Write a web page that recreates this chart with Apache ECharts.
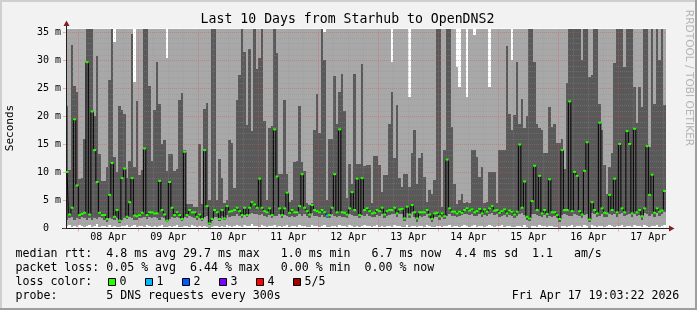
<!DOCTYPE html>
<html><head><meta charset="utf-8">
<script src="https://cdn.jsdelivr.net/npm/echarts@6/dist/echarts.min.js"></script>
<style>html,body{margin:0;padding:0;background:#f2f2f2}#c{width:697px;height:310px}</style>
</head><body><div id="c"></div><script>
// ---- data (hourly consolidated samples, first sample Apr 7 19:00) ----
const START_HOUR = 19;             // hours since Apr 7 00:00 of the first sample
const VIEW_START = 19.0561;        // Apr 7 19:03:22
const VIEW_END = 259.0561;         // Apr 17 19:03:22
const dayLabels = ['08 Apr','09 Apr','10 Apr','11 Apr','12 Apr','13 Apr','14 Apr','15 Apr','16 Apr','17 Apr'];
const yTickValues = [0,5,10,15,20,25,30,35];

const median = [
10.1,2.5,3.7,19.5,7.7,2.4,2.6,2.8,29.7,2.5,
20.9,14.0,8.3,2.8,2.4,2.4,1.7,6.0,11.7,2.1,
3.3,1.4,9.0,10.7,2.1,4.7,9.0,2.3,2.2,2.4,
2.8,14.3,2.4,2.9,2.9,2.7,2.7,8.5,3.3,2.5,
1.4,8.3,3.7,2.4,2.9,2.4,1.7,13.7,2.4,3.3,
2.9,2.9,2.1,2.5,1.7,14.0,4.0,0.9,1.7,3.3,
2.9,1.7,3.3,1.8,4.0,3.0,3.1,3.3,3.7,3.1,
2.4,3.7,2.4,3.7,4.7,4.3,3.7,8.9,3.7,3.1,
2.9,3.6,2.4,17.7,9.3,3.6,2.4,3.6,6.4,2.8,
3.3,2.9,2.9,4.0,9.7,3.7,3.1,2.5,4.2,3.3,
3.1,2.9,3.3,2.9,2.3,2.4,3.7,9.7,2.9,17.7,
2.9,2.8,2.5,3.6,6.5,3.3,8.9,2.4,9.0,3.3,
3.6,3.1,2.7,2.8,3.3,3.1,3.7,2.5,3.1,3.3,
3.3,3.7,2.7,3.4,3.5,1.8,3.9,2.5,4.2,2.9,
1.8,2.9,2.9,2.9,3.3,2.5,1.7,2.7,2.8,2.2,
2.7,2.2,12.3,3.6,3.0,3.0,2.7,3.0,2.8,3.3,
3.6,3.2,3.4,2.9,3.1,3.5,2.7,3.4,3.0,3.6,
4.0,3.2,3.3,2.8,3.1,3.4,2.7,3.2,3.0,2.5,
3.0,15.0,3.7,8.4,2.1,1.8,4.9,11.2,3.3,9.4,
2.7,3.3,2.6,8.8,2.9,2.9,2.4,1.7,14.0,3.3,
3.3,22.7,3.1,10.1,9.4,3.1,2.5,10.3,15.4,1.6,
4.7,3.3,2.7,18.9,3.6,2.8,2.7,6.0,3.3,8.9,
2.9,15.1,3.6,2.9,17.4,15.1,2.7,17.8,2.9,3.3,
2.2,3.6,14.7,6.0,9.6,2.8,3.6,3.0,3.2,6.7];

// lowest ping (bottom of the smoke)
const smokeMin = [
0.4,0.6,0.3,0.5,0.2,0.7,0.4,0.3,0.5,0.6,
0.3,0.4,0.8,0.3,0.5,0.4,0.3,0.6,0.2,0.5,
0.3,0.2,0.5,0.4,0.6,0.3,0.4,0.7,0.3,0.5,
0.4,0.3,0.6,0.4,0.2,0.5,0.3,0.4,0.6,0.3,
0.2,0.5,0.3,0.4,0.7,0.3,0.2,0.5,0.4,0.3,
0.6,0.4,0.3,0.5,0.2,0.4,0.3,0.1,0.2,0.4,
0.5,0.3,0.4,0.2,0.6,0.4,0.3,0.5,0.7,0.4,
0.3,0.6,0.4,0.5,0.8,0.4,0.5,0.3,0.6,0.4,
0.3,0.5,0.4,0.6,0.3,0.5,0.2,0.4,0.6,0.3,
0.5,0.4,0.3,0.7,0.4,0.5,0.3,0.2,0.6,0.4,
0.5,0.3,0.4,0.6,0.2,0.3,0.5,0.4,0.3,0.6,
0.4,0.5,0.3,0.7,0.4,0.3,0.5,0.2,0.4,0.6,
0.4,0.5,0.3,0.4,0.6,0.3,0.5,0.2,0.4,0.5,
0.3,0.6,0.4,0.5,0.3,0.2,0.7,0.3,0.5,0.4,
0.2,0.4,0.5,0.3,0.6,0.4,0.2,0.3,0.5,0.4,
0.3,0.4,0.5,0.6,0.3,0.4,0.5,0.3,0.4,0.6,
0.5,0.3,0.4,0.6,0.3,0.5,0.4,0.3,0.5,0.6,
0.4,0.3,0.5,0.4,0.6,0.3,0.4,0.5,0.3,0.2,
0.4,0.5,0.3,0.6,0.2,0.1,0.5,0.4,0.3,0.6,
0.4,0.5,0.3,0.4,0.5,0.3,0.2,0.1,0.4,0.5,
0.3,0.4,0.6,0.3,0.5,0.4,0.3,0.6,0.5,0.1,
0.7,0.4,0.3,0.5,0.4,0.3,0.5,0.6,0.4,0.3,
0.5,0.4,0.6,0.3,0.5,0.4,0.3,0.6,0.4,0.5,
0.2,0.6,0.4,0.3,0.5,0.4,0.6,0.3,0.5,0.7];

// bottom of the dense (dark) smoke band
const darkLo = [
1.6,1.9,2.0,1.5,1.8,1.7,2.0,1.9,1.6,1.8,
1.5,1.9,1.7,2.0,1.8,1.6,1.2,1.9,1.7,1.5,
1.8,1.0,1.6,1.9,1.7,2.1,1.8,1.6,1.5,1.9,
1.8,2.0,1.7,2.1,1.9,2.0,1.8,1.6,2.1,1.9,
1.1,1.7,2.0,1.8,2.1,1.9,1.3,2.0,1.8,2.2,
2.0,1.9,1.6,1.9,1.3,2.0,2.3,0.7,1.3,2.1,
2.0,1.3,2.2,1.5,2.4,2.1,2.2,2.3,2.5,2.2,
1.9,2.4,2.0,2.6,2.8,2.5,2.6,2.4,2.5,2.2,
2.1,2.4,1.9,2.3,2.2,2.5,1.9,2.4,2.2,2.0,
2.3,2.1,2.2,2.6,2.3,2.5,2.2,1.9,2.7,2.3,
2.2,2.0,2.4,2.1,1.8,1.9,2.6,2.3,2.0,2.2,
2.1,2.0,1.9,2.5,2.4,2.3,2.2,1.9,2.4,2.3,
2.5,2.3,2.0,2.1,2.4,2.2,2.6,1.9,2.3,2.4,
2.5,2.6,2.0,2.5,2.6,1.3,2.7,1.8,2.9,2.1,
1.2,2.2,2.1,2.3,2.5,1.9,1.2,2.0,2.1,1.6,
2.0,1.7,2.3,2.6,2.2,2.3,2.0,2.2,2.4,2.5,
2.6,2.4,2.5,2.2,2.3,2.6,2.0,2.4,2.2,2.5,
2.8,2.4,2.5,2.1,2.3,2.4,2.0,2.4,2.2,1.9,
2.2,2.5,2.7,2.4,1.5,1.3,2.6,2.5,2.4,2.3,
2.0,2.4,1.9,2.3,2.1,2.2,1.8,1.2,2.4,2.5,
2.4,2.3,2.3,2.5,2.4,2.3,1.9,2.4,2.6,1.1,
2.7,2.5,2.0,2.3,2.6,2.1,2.0,2.5,2.4,2.6,
2.1,2.5,2.7,2.2,2.4,2.5,2.0,2.6,2.2,2.4,
1.6,2.7,2.5,2.3,2.6,2.1,2.7,2.3,2.6,2.9];

// top of the dense (dark) smoke band (36 = above the visible range)
const darkHi = [
21.8,10.4,32.7,25.4,24.4,8.8,9.0,16.0,36,36,
36,20.0,30.8,13.3,8.5,8.5,10.9,26.5,36,12.7,
10.0,21.8,21.2,20.5,9.0,12.0,34.7,11.0,22.7,9.5,
10.5,36,36,25.4,12.0,21.1,29.8,22.2,15.0,15.8,
10.3,13.3,13.3,10.3,10.6,23.0,24.2,14.0,4.3,4.3,
4.3,3.9,3.9,15.0,4.3,21.3,22.4,5.0,36,36,
5.0,12.4,9.1,4.5,5.0,15.8,15.2,7.3,23.0,27.4,
36,31.5,18.4,32.0,17.4,36,28.5,30.5,36,19.2,
5.0,18.0,18.3,36,31.4,9.7,9.7,23.0,9.7,4.8,
5.0,11.8,12.0,21.9,11.8,10.3,4.5,4.2,4.5,17.5,
24.0,17.0,36,30.0,5.0,16.0,16.0,27.3,18.6,24.3,
27.6,21.0,5.5,11.5,8.0,27.6,11.5,11.5,29.3,11.2,
11.3,11.3,4.5,13.0,13.0,11.3,6.5,9.5,9.5,18.7,
24.4,12.5,22.0,9.0,7.4,9.8,9.8,7.4,13.4,17.6,
8.0,12.5,13.4,9.2,4.8,6.8,6.2,8.6,36,36,
3.9,14.0,36,36,18.1,8.0,4.3,5.0,6.2,4.5,
4.8,4.5,14.0,14.0,12.8,9.2,11.0,4.5,4.8,10.0,
10.0,10.0,4.5,14.0,14.0,14.0,32.5,20.5,17.5,20.2,
29.8,18.7,23.2,17.9,20.0,36,36,29.8,18.6,17.9,
17.5,13.4,13.4,21.7,18.1,18.6,15.2,15.2,16.0,10.7,
25.9,36,36,36,36,36,30.0,36,36,27.0,
27.4,36,36,22.3,17.5,11.3,6.2,11.0,13.4,29.5,
36,36,36,28.9,36,36,36,25.3,18.8,25.3,
21.7,36,36,14.5,36,22.3,36,30.0,36,22.0];

// highest ping (top of the smoke; 36 = above the visible range)
const smokeMax = [
36,36,36,36,36,36,36,36,36,36,
36,36,36,36,36,36,36,36,36,33.3,
36,36,36,36,36,36,36,26.2,36,36,
36,36,36,36,36,36,36,36,36,36,
30.5,36,36,36,36,36,36,36,36,36,
36,36,36,36,36,36,36,36,36,36,
36,36,36,36,36,36,36,36,36,36,
36,36,36,36,36,36,36,36,36,36,
36,36,36,36,36,36,36,36,36,36,
36,36,36,36,36,36,36,36,36,36,
36,36,36,35.0,36,36,36,36,36,36,
36,36,36,36,36,36,36,36,36,36,
36,36,36,36,36,36,36,36,36,36,
29.8,36,36,36,36,36,36,23.5,36,36,
36,36,36,36,36,36,36,36,36,36,
36,36,36,36,36,36,28.9,25.3,36,36,
23.4,36,36,34.5,36,36,36,36,36,25.3,
36,36,36,36,36,36,36,36,30.0,36,
36,36,36,36,36,36,36,36,36,36,
36,36,36,36,36,36,36,36,36,36,
36,36,36,36,36,36,36,36,36,36,
36,36,36,36,36,36,36,36,36,36,
36,36,36,36,36,36,36,36,36,36,
36,36,36,36,36,36,36,36,36,36];

const lossEvents = [[104, 1]];   // [sample index, lost pings]
const lossColors = ['#26ff00','#00b8ff','#0059ff','#7e00ff','#ff0000','#a10000'];
const lossLabels = ['0','1','2','3','4','5/5'];

const titleText = 'Last 10 Days from Starhub to OpenDNS2';
const legendRtt = 'median rtt:  4.8 ms avg 29.7 ms max   1.0 ms min   6.7 ms now  4.4 ms sd  1.1   am/s';
const legendLoss = 'packet loss: 0.05 % avg  6.44 % max   0.00 % min  0.00 % now';
const legendColor = 'loss color:';
const legendProbe = 'probe:       5 DNS requests every 300s';
const stampText = 'Fri Apr 17 19:03:22 2026';
const watermark = 'RRDTOOL / TOBI OETIKER';

// ---- styles ----
const Y_MAX = 35.714;
const LIGHT = '#a8a8a8', DARK = '#595959';
const MGRID = 'rgba(222,79,79,0.42)', GRID = 'rgba(143,143,143,0.35)';
const MONO = '"DejaVu Sans Mono", monospace';

const lossOf = {}; lossEvents.forEach(function(e){ lossOf[e[0]] = e[1]; });
const smokeData = median.map(function(m, i){
  return [START_HOUR + i, smokeMin[i], darkLo[i], darkHi[i], smokeMax[i]];
});
const medData = median.map(function(m, i){
  return { value: [START_HOUR + i + 0.5, m], itemStyle: { color: lossColors[lossOf[i] || 0] } };
});

// grid line positions (axis structure, not data)
const gridLines = [];
for (let v = 1; v <= 35; v++) {
  gridLines.push({ yAxis: v, lineStyle: { color: v % 5 === 0 ? MGRID : GRID, type: [1,1], width: 1 } });
}
const midnights = [], noons = [];
for (let k = 0; k < dayLabels.length; k++) { midnights.push(24 + 24 * k); noons.push(36 + 24 * k); }
for (let h = 24; h <= 258; h += 6) {
  gridLines.push({ xAxis: h, lineStyle: { color: h % 24 === 0 ? MGRID : GRID, type: [1,1], width: 1 } });
}

const chart = echarts.init(document.getElementById('c'), null, { renderer: 'canvas', width: 697, height: 310, devicePixelRatio: 1 });

const textEl = function(x, y, text, extra, rot) {
  return { type: 'text', x: x, y: y, rotation: rot || 0, silent: true,
    style: Object.assign({ text: text, font: '11.6px ' + MONO, fill: '#000', align: 'left', verticalAlign: 'middle' }, (extra || {})) };
};

const graphics = [
  { type: 'rect', shape: { x: 0, y: 0, width: 697, height: 2 }, style: { fill: '#cfcfcf' }, silent: true },
  { type: 'rect', shape: { x: 0, y: 0, width: 2, height: 310 }, style: { fill: '#cfcfcf' }, silent: true },
  { type: 'rect', shape: { x: 0, y: 308, width: 697, height: 2 }, style: { fill: '#9e9e9e' }, silent: true },
  { type: 'rect', shape: { x: 695, y: 0, width: 2, height: 310 }, style: { fill: '#9e9e9e' }, silent: true },
  textEl(347.5, 19.4, titleText, { font: '13.2px ' + MONO, align: 'center' }),
  textEl(10.5, 128, 'Seconds', { font: '11px ' + MONO, align: 'center' }, Math.PI / 2),
  textEl(689, 78, watermark, { font: '10.6px "DejaVu Sans", sans-serif', fill: '#b4b4b4', align: 'center' }, -Math.PI / 2),
  textEl(15.5, 253.7, legendRtt),
  textEl(15.5, 267.7, legendLoss),
  textEl(15.5, 281.7, legendColor),
  textEl(15.5, 295.7, legendProbe),
  textEl(511.8, 295.7, stampText),
  // axis arrows and extensions
  { type: 'line', shape: { x1: 66.5, y1: 28.5, x2: 66.5, y2: 24 }, style: { stroke: '#1f1f1f', lineWidth: 1 }, silent: true },
  { type: 'line', shape: { x1: 62, y1: 228.5, x2: 66, y2: 228.5 }, style: { stroke: '#1f1f1f', lineWidth: 1 }, silent: true },
  { type: 'line', shape: { x1: 666, y1: 228.5, x2: 670, y2: 228.5 }, style: { stroke: '#1f1f1f', lineWidth: 1 }, silent: true },
  { type: 'polygon', shape: { points: [[63.5, 26], [69.5, 26], [66.5, 20.5]] }, style: { fill: '#801f1f' }, silent: true },
  { type: 'polygon', shape: { points: [[669, 225.5], [669, 231.5], [674.5, 228.5]] }, style: { fill: '#801f1f' }, silent: true }
];
for (let k = 0; k < lossColors.length; k++) {
  graphics.push({ type: 'rect', shape: { x: 108.5 + 37 * k, y: 278.5, width: 7, height: 7 },
    style: { fill: lossColors[k], stroke: '#000', lineWidth: 1 }, silent: true });
  graphics.push(textEl(119.5 + 37 * k, 281.7, lossLabels[k]));
}

chart.setOption({
  animation: false,
  backgroundColor: '#f2f2f2',
  grid: { left: 66, top: 28.5, width: 600, height: 200, show: true, backgroundColor: '#ffffff', borderWidth: 0 },
  xAxis: {
    type: 'value', min: VIEW_START, max: VIEW_END, z: 8,
    axisLine: { show: true, onZero: false, lineStyle: { color: '#1f1f1f', width: 1 } },
    axisTick: { show: true, customValues: midnights, length: 3, lineStyle: { color: MGRID } },
    axisLabel: { show: true, customValues: noons, margin: 4, color: '#000', fontFamily: MONO, fontSize: 10,
      formatter: function(v){ return dayLabels[Math.round((v - 36) / 24)] || ''; } },
    splitLine: { show: false }
  },
  yAxis: {
    type: 'value', min: 0, max: Y_MAX, z: 8,
    axisLine: { show: true, lineStyle: { color: '#1f1f1f', width: 1 } },
    axisTick: { show: true, customValues: yTickValues, length: 3, lineStyle: { color: MGRID } },
    axisLabel: { show: true, customValues: yTickValues, margin: 5, color: '#000', fontFamily: MONO, fontSize: 10,
      formatter: function(v){ return v === 0 ? '0  ' : (v + ' m'); } },
    splitLine: { show: false }
  },
  graphic: { elements: graphics },
  series: [
    {
      type: 'custom', z: 1, silent: true, data: smokeData,
      renderItem: function(params, api) {
        const cs = params.coordSys;
        const h = api.value(0);
        const x0 = Math.round(Math.max(api.coord([h, 0])[0], cs.x));
        const x1 = Math.round(Math.min(api.coord([h + 1, 0])[0], cs.x + cs.width));
        const py = function(v){ return Math.round(Math.max(api.coord([h, Math.min(v, Y_MAX)])[1], cs.y)); };
        const a = py(api.value(1)), b = py(api.value(2)), c = py(api.value(3)), d = py(api.value(4));
        return { type: 'group', children: [
          { type: 'rect', shape: { x: x0, y: b, width: x1 - x0, height: a - b }, style: { fill: LIGHT } },
          { type: 'rect', shape: { x: x0, y: c, width: x1 - x0, height: b - c }, style: { fill: DARK } },
          { type: 'rect', shape: { x: x0, y: d, width: x1 - x0, height: c - d }, style: { fill: LIGHT } }
        ]};
      }
    },
    {
      type: 'line', z: 10, silent: true, step: 'middle', data: medData,
      symbol: 'rect', symbolSize: [3, 2], showSymbol: true, showAllSymbol: true,
      lineStyle: { color: '#000', width: 1 }, itemStyle: { color: '#26ff00', borderWidth: 0 },
      markLine: { z: 5, silent: true, symbol: 'none', label: { show: false }, animation: false,
        emphasis: { disabled: true }, data: gridLines }
    }
  ]
});
</script></body></html>
